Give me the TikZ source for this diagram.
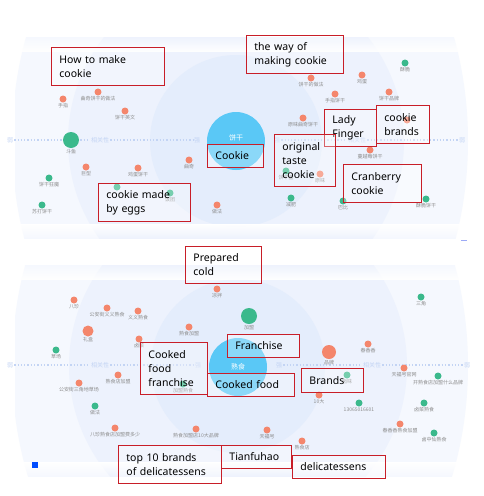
\documentclass[tikz,border=0pt]{standalone}
\usepackage{fontspec}
\usetikzlibrary{fadings}
\setmainfont{Noto Sans}
\newfontfamily\cjk{Noto Sans CJK SC}
\definecolor{coral}{HTML}{F4866C}
\definecolor{grn}{HTML}{3BB98C}
\definecolor{bub}{HTML}{5AC8F6}
\definecolor{boxred}{HTML}{C81E28}
\definecolor{bgA}{HTML}{F5F8FE}
\definecolor{bgB}{HTML}{EDF2FD}
\definecolor{bgC}{HTML}{E4EDFC}
\definecolor{tagc}{HTML}{8C8C8C}
\definecolor{axc}{HTML}{C3D4F4}
\tikzset{
  cdot/.style={circle, fill=coral, inner sep=0pt, minimum size=7pt, label distance=1.5pt},
  gdot/.style={circle, fill=grn, inner sep=0pt, minimum size=7pt, label distance=1.5pt},
  tag/.style={font=\cjk\fontsize{5}{5}\selectfont, text=tagc, inner sep=0.5pt},
  axl/.style={font=\cjk\fontsize{6}{6}\selectfont, text=axc, inner sep=1pt},
  axline/.style={axc, dotted, line width=1.3pt},
  bubble/.style={circle, fill=bub, inner sep=0pt, minimum size=58pt, font=\cjk\fontsize{7}{7}\selectfont, text=white},
  lbox/.style={draw=boxred, line width=0.9pt, fill=white, fill opacity=0.3, text opacity=1, text=black,
    align=left, inner xsep=8pt, inner ysep=0pt, anchor=north west, font=\fontsize{10.5}{14}\selectfont}
}
\begin{document}
\begin{tikzpicture}[x=1pt,y=-1pt]
\useasboundingbox (0,0) rectangle (484,496);
\fill[white] (0,0) rectangle (484,496);
% ---------- panel 1 background
\begin{scope}
\clip (15,37) rectangle (470,238);
\fill[bgA] (240,141) ellipse [x radius=228, y radius=300];
\fill[bgB] (236,141) circle (168pt);
\fill[bgC] (236,141) circle (86pt);
\end{scope}
\fill[white, path fading=north] (0,36) rectangle (484,52);
\fill[white, path fading=south] (0,224) rectangle (484,239);
% ---------- panel 2 background
\begin{scope}
\clip (15,265) rectangle (470,476);
\fill[bgA] (240,366) ellipse [x radius=228, y radius=300];
\fill[bgB] (238,366) circle (169pt);
\fill[bgC] (238,366) circle (87pt);
\end{scope}
\fill[white, path fading=north] (0,264) rectangle (484,280);
\fill[white, path fading=south] (0,462) rectangle (484,477);
% ---------- axis panel 1
\node[axl] (w1l) at (10,140) {弱};
\node[axl] (r1l) at (100,140) {相关性};
\node[axl] (s1l) at (197,140) {强};
\node[axl] (s1r) at (277,140) {强};
\node[axl] (r1r) at (357,140) {相关性};
\node[axl] (w1r) at (462,140) {弱};
\draw[axline] (w1l) -- (r1l) -- (s1l);
\draw[axline] (s1r) -- (r1r) -- (w1r);
% ---------- axis panel 2
\node[axl] (w2l) at (10,365) {弱};
\node[axl] (r2l) at (100,365) {相关性};
\node[axl] (s2l) at (198,365) {强};
\node[axl] (s2r) at (279,365) {强};
\node[axl] (r2r) at (372,365) {相关性};
\node[axl] (w2r) at (467,365) {弱};
\draw[axline] (w2l) -- (r2l) -- (s2l);
\draw[axline] (s2r) -- (r2r) -- (w2r);
% ---------- bubbles
\node[bubble] (cb1) at (236,141) {\raisebox{6pt}{饼干}};
\node[bubble] (cb2) at (238,367) {熟食};
% ---------- panel 1 dots
\node[cdot, label={[tag]below:手指}] (p1a) at (63,99) {};
\node[cdot, label={[tag]below:曲奇饼干的做法}] (p1b) at (98,92) {};
\node[cdot, label={[tag]below:饼干英文}] (p1c) at (125,111) {};
\node[cdot, label={[tag]below:巨型}] (p1d) at (86,167) {};
\node[cdot, label={[tag]below:鸡蛋饼干}] (p1e) at (138,168) {};
\node[cdot, label={[tag]below:曲奇}] (p1f) at (189,160) {};
\node[cdot, label={[tag]below:做法}] (p1g) at (217,205) {};
\node[cdot, label={[tag]below:鸡蛋}] (p1h) at (362,75) {};
\node[cdot, label={[tag]below:饼干的做法}] (p1i) at (311,78) {};
\node[cdot, label={[tag]below:手指饼干}] (p1j) at (335,94) {};
\node[cdot, label={[tag]below:饼干品牌}] (p1k) at (389,92) {};
\node[cdot, label={[tag]below:原味曲奇饼干}] (p1l) at (303,118) {};
\node[cdot] (p1m) at (407,120) {};
\node[cdot, label={[tag]below:蔓越莓饼干}] (p1n) at (370,150) {};
\node[cdot, label={[tag]below:原味}] (p1o) at (320,174) {};
\node[gdot, minimum size=16pt, label={[tag]below:斗鱼}] (g1a) at (71,140) {};
\node[gdot, label={[tag]below:饼干狂魔}] (g1b) at (49,178) {};
\node[gdot, label={[tag]below:苏打饼干}] (g1c) at (42,205) {};
\node[gdot] (g1d) at (117,187) {};
\node[gdot, label={[tag]below:饭团}] (g1e) at (170,193) {};
\node[gdot, label={[tag]below:酥脆}] (g1f) at (405,63) {};
\node[gdot, label={[tag]below:饼干盒}] (g1g) at (286,171) {};
\node[gdot, label={[tag]below:减肥}] (g1h) at (291,198) {};
\node[gdot, label={[tag]below:巴比}] (g1i) at (343,201) {};
\node[gdot, label={[tag]below:酥脆饼干}] (g1j) at (426,199) {};
% ---------- panel 2 dots
\node[cdot, label={[tag]below:八珍}] (q2a) at (74,300) {};
\node[cdot, label={[tag]below:公安街义义熟食}] (q2b) at (107,308) {};
\node[cdot, label={[tag]below:义义熟食}] (q2c) at (138,311) {};
\node[cdot, minimum size=11pt, label={[tag]below:礼盒}] (q2d) at (88,331) {};
\node[cdot, label={[tag]below:卤菜}] (q2e) at (139,339) {};
\node[cdot, label={[tag]below:熟食加盟}] (q2f) at (189,327) {};
\node[cdot, label={[tag]below:凉拌}] (q2g) at (217,289) {};
\node[cdot, label={[tag]below:熟食店加盟}] (q2h) at (118,375) {};
\node[cdot, label={[tag]below:公安街三角地草场}] (q2i) at (79,383) {};
\node[cdot, label={[tag]below:八珍熟食店加盟费多少}] (q2j) at (115,428) {};
\node[cdot, label={[tag]below:熟食加盟店10大品牌}] (q2k) at (196,429) {};
\node[cdot, minimum size=14pt, label={[tag]below:品牌}] (q2l) at (329,352) {};
\node[cdot, label={[tag]below:春香香}] (q2m) at (368,344) {};
\node[cdot, label={[tag]below:10大}] (q2n) at (319,395) {};
\node[cdot, label={[tag]below:天福号官网}] (q2o) at (404,368) {};
\node[cdot, label={[tag]below:春香香熟食加盟}] (q2p) at (400,424) {};
\node[cdot, label={[tag]below:天福号}] (q2q) at (267,430) {};
\node[cdot, label={[tag]below:熟食店}] (q2r) at (302,441) {};
\node[gdot, label={[tag]below:草场}] (h2a) at (56,350) {};
\node[gdot, label={[tag]below:加盟熟食}] (h2b) at (183,384) {};
\node[gdot, label={[tag]below:做法}] (h2c) at (95,406) {};
\node[gdot, minimum size=16pt, label={[tag]below:加盟}] (h2d) at (249,316) {};
\node[gdot, label={[tag]below:卤味}] (h2e) at (347,375) {};
\node[gdot, label={[tag]below:13065016601}] (h2f) at (359,403) {};
\node[gdot, label={[tag]below:开熟食店加盟什么品牌}] (h2g) at (438,376) {};
\node[gdot, label={[tag]below:卤菜熟食}] (h2h) at (424,403) {};
\node[gdot, label={[tag]below:卤中仙熟食}] (h2i) at (434,433) {};
\node[gdot, label={[tag]below:三角}] (h2j) at (421,297) {};
% small marks
\draw[color=axc!80!blue, line width=1pt] (461,240) -- (467,240);
\fill[blue!70!cyan] (32,462) rectangle (38,468);
% ---------- label boxes panel 1
\node[lbox, text width=97pt, minimum height=38pt] (b1) at (51,47) {How to make\\cookie};
\node[lbox, text width=81pt, minimum height=38pt] (b2) at (246,35) {the way of\\making cookie};
\node[lbox, text width=36pt, minimum height=37pt] (b3) at (324,109) {Lady\\Finger};
\node[lbox, text width=37pt, minimum height=38pt] (b4) at (376,105) {cookie\\brands};
\node[lbox, text width=45pt, minimum height=52pt] (b5) at (274,134) {original\\taste\\cookie};
\node[lbox, text width=62pt, minimum height=38pt] (b6) at (343,164) {Cranberry\\cookie};
\node[lbox, text width=40pt, minimum height=23pt] (b7) at (207,144) {Cookie};
\node[lbox, text width=76pt, minimum height=38pt] (b8) at (98,183) {cookie made\\by eggs};
% ---------- label boxes panel 2
\node[lbox, text width=60pt, minimum height=37pt] (c1) at (185,246) {Prepared\\cold};
\node[lbox, text width=56pt, minimum height=23pt] (c2) at (227,334) {Franchise};
\node[lbox, text width=51pt, minimum height=52pt] (c3) at (140,342) {Cooked\\food\\franchise};
\node[lbox, text width=71pt, minimum height=23pt] (c4) at (207,373) {Cooked food};
\node[lbox, text width=46pt, minimum height=24pt] (c5) at (301,368) {Brands};
\node[lbox, text width=87pt, minimum height=38pt] (c6) at (118,445) {top 10 brands\\of delicatessens};
\node[lbox, text width=54pt, minimum height=23pt] (c7) at (221,445) {Tianfuhao};
\node[lbox, text width=77pt, minimum height=23pt] (c8) at (292,455) {delicatessens};
\end{tikzpicture}
\end{document}
